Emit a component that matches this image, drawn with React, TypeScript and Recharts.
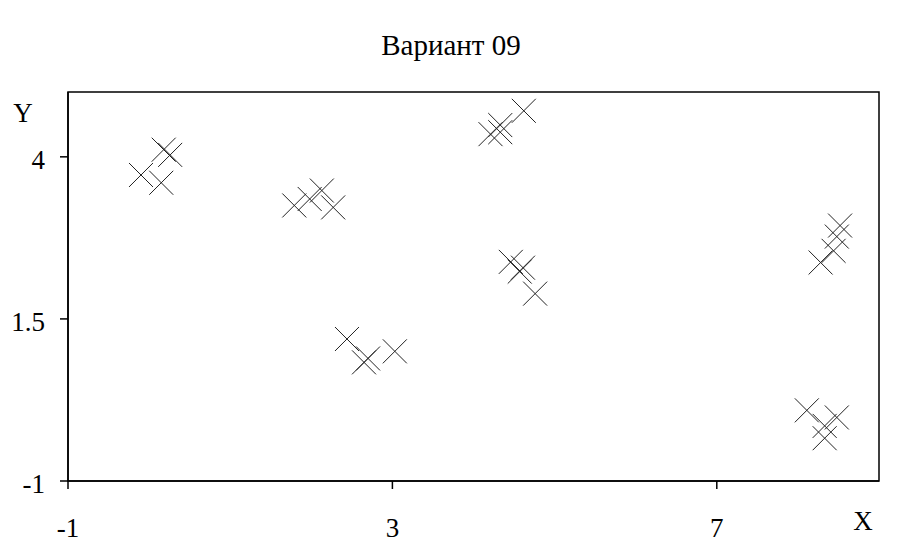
import React from 'react';
import { ScatterChart, Scatter, XAxis, YAxis, ReferenceArea } from 'recharts';

const title = 'Вариант 09';
const xTicks = [-1, 3, 7];
const yTicks = [-1, 1.5, 4];
const pointsX = [
  -0.1, 0.18, 0.26, 0.15,
  1.79, 1.98, 2.13, 2.27,
  2.44, 2.65, 2.7, 3.03,
  4.21, 4.33, 4.33, 4.62,
  4.46, 4.61, 4.57, 4.76,
  8.52, 8.48, 8.44, 8.28,
  8.11, 8.48, 8.33, 8.33,
];
const pointsY = [
  3.72, 4.11, 4.03, 3.6,
  3.25, 3.35, 3.48, 3.22,
  1.19, 0.83, 0.89, 1.0,
  4.35, 4.38, 4.49, 4.71,
  2.38, 2.29, 2.23, 1.89,
  2.94, 2.77, 2.55, 2.37,
  0.09, -0.02, -0.15, -0.34,
];

const data = pointsX.map((x, i) => ({ x, y: pointsY[i] }));

const FONT = '"Liberation Serif", "Times New Roman", serif';

const XMarker = (props: any) => {
  const { cx, cy } = props;
  const r = 12;
  return (
    <path
      d={`M${cx - r},${cy - r}L${cx + r},${cy + r}M${cx - r},${cy + r}L${cx + r},${cy - r}`}
      stroke="#222"
      strokeWidth={1}
      fill="none"
    />
  );
};

const XTick = (props: any) => {
  const { x, payload } = props;
  return (
    <text x={x} y={537} textAnchor="middle" fontFamily={FONT} fontSize={27} fill="#000">
      {payload.value}
    </text>
  );
};

const YTick = (props: any) => {
  const { y, payload } = props;
  return (
    <text x={45} y={y + 12} textAnchor="end" fontFamily={FONT} fontSize={27} fill="#000">
      {payload.value}
    </text>
  );
};

const xLabel = () => (
  <g>
    <text x={863} y={530} textAnchor="middle" fontFamily={FONT} fontSize={27} fill="#000">X</text>
    <text x={451} y={55} textAnchor="middle" fontFamily={FONT} fontSize={29} fill="#000">{title}</text>
  </g>
);

const yLabel = () => (
  <text x={23} y={122} textAnchor="middle" fontFamily={FONT} fontSize={27} fill="#000">Y</text>
);

export default function App() {
  return (
    <div style={{ position: 'absolute', left: 0, top: 0, width: 899, height: 556, background: '#fff' }}>
      <ScatterChart width={899} height={556} margin={{ top: 92, right: 20, bottom: 0, left: 0 }}>
        <XAxis
          type="number"
          dataKey="x"
          domain={[-1, 9]}
          ticks={xTicks}
          tickSize={8}
          height={75}
          axisLine={{ stroke: '#000', strokeWidth: 1.5 }}
          tickLine={{ stroke: '#000', strokeWidth: 1.5 }}
          tick={<XTick />}
          label={xLabel}
          allowDataOverflow
        />
        <YAxis
          type="number"
          dataKey="y"
          domain={[-1, 5]}
          ticks={yTicks}
          tickSize={8}
          width={68}
          axisLine={{ stroke: '#000', strokeWidth: 1.5 }}
          tickLine={{ stroke: '#000', strokeWidth: 1.5 }}
          tick={<YTick />}
          label={yLabel}
          allowDataOverflow
        />
        <ReferenceArea x1={-1} x2={9} y1={-1} y2={5} fill="none" stroke="#000" strokeWidth={1.5} ifOverflow="visible" />
        <Scatter data={data} shape={<XMarker />} isAnimationActive={false} />
      </ScatterChart>
    </div>
  );
}
